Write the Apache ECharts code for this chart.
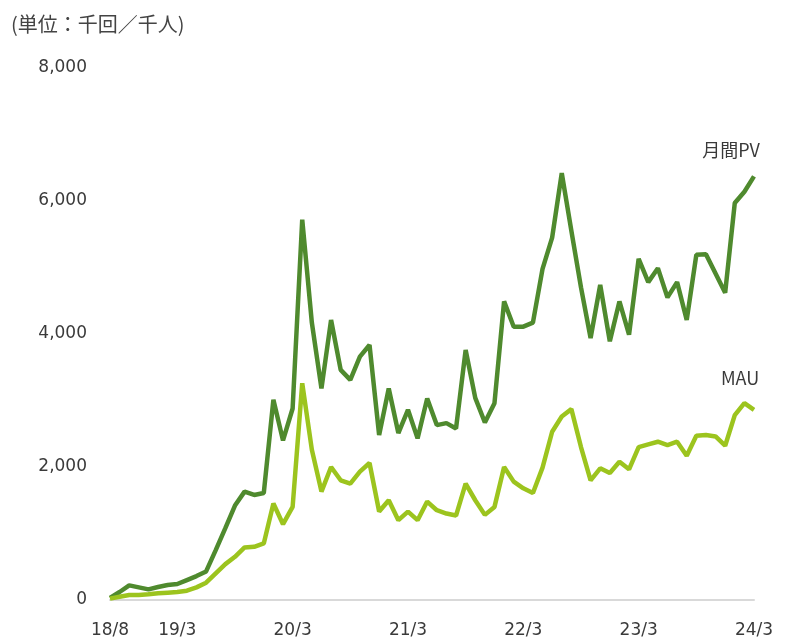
<!DOCTYPE html>
<html>
<head>
<meta charset="utf-8">
<script src="https://cdn.jsdelivr.net/npm/echarts@6/dist/echarts.min.js"></script>
<style>
html, body { margin: 0; padding: 0; background: #fff; }
#main { width: 789px; height: 644px; }
</style>
</head>
<body>
<div id="main"></div>
<script>
var months = [
	'18/8', '18/9', '18/10', '18/11', '18/12',
	'19/1', '19/2', '19/3', '19/4', '19/5', '19/6', '19/7', '19/8', '19/9', '19/10', '19/11', '19/12',
	'20/1', '20/2', '20/3', '20/4', '20/5', '20/6', '20/7', '20/8', '20/9', '20/10', '20/11', '20/12',
	'21/1', '21/2', '21/3', '21/4', '21/5', '21/6', '21/7', '21/8', '21/9', '21/10', '21/11', '21/12',
	'22/1', '22/2', '22/3', '22/4', '22/5', '22/6', '22/7', '22/8', '22/9', '22/10', '22/11', '22/12',
	'23/1', '23/2', '23/3', '23/4', '23/5', '23/6', '23/7', '23/8', '23/9', '23/10', '23/11', '23/12',
	'24/1', '24/2', '24/3'
];
var shownLabels = ['18/8', '19/3', '20/3', '21/3', '22/3', '23/3', '24/3'];

var pv = [
	30, 120, 220, 190, 160,
	195, 225, 240, 300, 360, 430, 750, 1080, 1420, 1630, 1580, 1610,
	3010, 2400, 2880, 5720, 4170, 3180, 4210, 3460, 3310, 3660, 3835, 2480,
	3180, 2510, 2860, 2430, 3030, 2630, 2660, 2580, 3760, 3040, 2670, 2960,
	4490, 4110, 4110, 4170, 4980, 5450, 6420, 5550, 4700, 3940, 4740, 3890,
	4490, 3990, 5130, 4780, 4990, 4550, 4780, 4210, 5190, 5200, 4910, 4620,
	5970, 6140, 6370
];
var mau = [
	20, 50, 75, 75, 85,
	100, 110, 120, 140, 190, 260, 400, 540, 650, 790, 800, 850,
	1450, 1140, 1400, 3260, 2260, 1630, 2000, 1800, 1750, 1930, 2060, 1330,
	1500, 1200, 1330, 1200, 1480, 1350, 1300, 1270, 1750, 1500, 1280, 1400,
	2000, 1780, 1680, 1610, 1990, 2530, 2760, 2870, 2300, 1800, 1980, 1910,
	2080, 1965, 2300, 2340, 2380, 2330, 2380, 2170, 2470, 2480, 2460, 2320,
	2780, 2960, 2860
];

var textColor = '#3a3a3a';
var fontFamily = '"DejaVu Sans", Verdana, sans-serif';

// only the last point carries the series name
function withEndLabel(values, name, offset) {
	return values.map(function (v, i) {
		if (i !== values.length - 1) return v;
		return {
			value: v,
			label: {
				show: true,
				position: 'top',
				formatter: name,
				offset: offset,
				color: textColor,
				fontSize: 18,
				fontFamily: '"Noto Sans CJK JP", "DejaVu Sans", sans-serif'
			}
		};
	});
}

var myChart = echarts.init(document.getElementById('main'));

myChart.setOption({
	animation: false,
	title: {
		text: '(単位：千回／千人)',
		left: 6,
		top: 9,
		textStyle: {
			color: '#444',
			fontSize: 20,
			fontWeight: 'normal',
			fontFamily: '"Noto Sans CJK JP", sans-serif'
		}
	},
	grid: {
		left: 110,
		right: 35,
		top: 68,
		bottom: 44
	},
	xAxis: {
		type: 'category',
		boundaryGap: false,
		data: months,
		axisLine: {
			lineStyle: { color: '#d9d9d9', width: 2 }
		},
		axisTick: { show: false },
		axisLabel: {
			interval: function (idx, val) {
				return shownLabels.indexOf(val) !== -1;
			},
			margin: 22,
			color: textColor,
			fontSize: 17,
			fontFamily: fontFamily
		}
	},
	yAxis: {
		type: 'value',
		min: 0,
		max: 8000,
		interval: 2000,
		axisLine: { show: false },
		axisTick: { show: false },
		splitLine: { show: false },
		axisLabel: {
			margin: 23,
			color: textColor,
			fontSize: 17,
			fontFamily: fontFamily,
			formatter: function (v) {
				return v.toLocaleString('en-US');
			}
		}
	},
	series: [
		{
			name: '月間PV',
			type: 'line',
			symbol: 'circle',
			symbolSize: 0,
			lineStyle: { color: '#4f8a2e', width: 4.5 },
			itemStyle: { color: '#4f8a2e' },
			data: withEndLabel(pv, '月間PV', [-23, -12])
		},
		{
			name: 'MAU',
			type: 'line',
			symbol: 'circle',
			symbolSize: 0,
			lineStyle: { color: '#9cc41e', width: 4.5 },
			itemStyle: { color: '#9cc41e' },
			data: withEndLabel(mau, 'MAU', [-14, -18])
		}
	]
});
</script>
</body>
</html>
